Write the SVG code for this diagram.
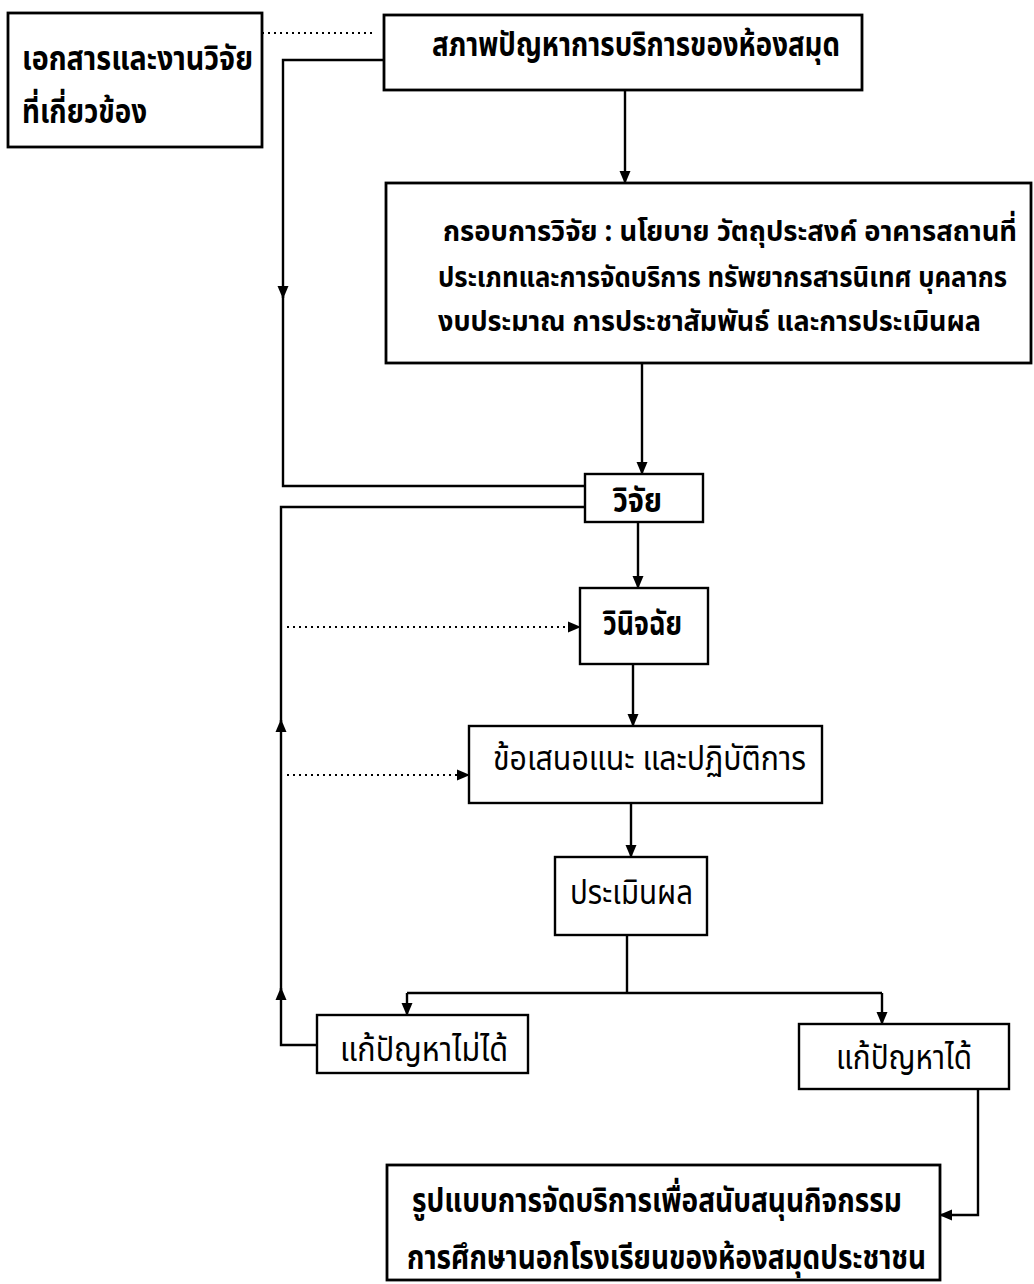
<svg xmlns="http://www.w3.org/2000/svg" width="1034" height="1284" viewBox="0 0 1034 1284">
<style>
  .box { fill: #ffffff; stroke: #000000; stroke-width: 2.4; }
  .boxh { fill: #ffffff; stroke: #000000; stroke-width: 2.8; }
  .t { font-family: "Noto Sans Thai", "Noto Sans", "DejaVu Sans", sans-serif; font-size: 33px; fill: #000000; }
  .b { font-weight: bold; }
  .s { font-size: 26px; }
  .ln { fill: none; stroke: #000000; stroke-width: 2.4; }
  .dot { fill: none; stroke: #000000; stroke-width: 2; stroke-dasharray: 2 4; }
</style>
<defs>
  <marker id="ah" markerWidth="13" markerHeight="13" viewBox="0 0 13 13" refX="12" refY="6.5" orient="auto" markerUnits="userSpaceOnUse">
    <path d="M0,1 L13,6.5 L0,12 Z" fill="#000000"/>
  </marker>
</defs>
<rect width="1034" height="1284" fill="#ffffff"/>

<g id="connectors">
  <path class="dot" d="M262,33 L373,33"/>
  <path class="ln" d="M625,90 L625,183" marker-end="url(#ah)"/>
  <path class="ln" d="M384,60 L283,60 L283,298" marker-end="url(#ah)"/>
  <path class="ln" d="M283,296 L283,486 L585,486"/>
  <path class="ln" d="M642,363 L642,474" marker-end="url(#ah)"/>
  <path class="ln" d="M638,522 L638,588" marker-end="url(#ah)"/>
  <path class="ln" d="M633,664 L633,726" marker-end="url(#ah)"/>
  <path class="ln" d="M631,803 L631,857" marker-end="url(#ah)"/>
  <path class="ln" d="M627,935 L627,993"/>
  <path class="ln" d="M407,993 L882,993"/>
  <path class="ln" d="M407,993 L407,1015" marker-end="url(#ah)"/>
  <path class="ln" d="M882,993 L882,1024" marker-end="url(#ah)"/>
  <path class="ln" d="M317,1045 L281,1045 L281,988" marker-end="url(#ah)"/>
  <path class="ln" d="M281,990 L281,720" marker-end="url(#ah)"/>
  <path class="ln" d="M281,722 L281,507 L585,507"/>
  <path class="dot" d="M287,627 L580,627" marker-end="url(#ah)"/>
  <path class="dot" d="M287,775 L469,775" marker-end="url(#ah)"/>
  <path class="ln" d="M978,1089 L978,1215 L940,1215" marker-end="url(#ah)"/>
</g>

<g id="node-documents">
  <rect class="boxh" x="8" y="13" width="254" height="134"/>
  <text class="t b" x="22" y="70" textLength="231" lengthAdjust="spacingAndGlyphs">เอกสารและงานวิจัย</text>
  <text class="t b" x="22" y="123" textLength="125" lengthAdjust="spacingAndGlyphs">ที่เกี่ยวข้อง</text>
</g>

<g id="node-problem">
  <rect class="boxh" x="384" y="15" width="478" height="75"/>
  <text class="t b" x="432" y="56" textLength="408" lengthAdjust="spacingAndGlyphs">สภาพปัญหาการบริการของห้องสมุด</text>
</g>

<g id="node-framework">
  <rect class="boxh" x="386" y="183" width="645" height="180"/>
  <text class="t b s" transform="translate(443,241) scale(1,1.12)" x="0" y="0" textLength="574" lengthAdjust="spacingAndGlyphs">กรอบการวิจัย : นโยบาย  วัตถุประสงค์ อาคารสถานที่</text>
  <text class="t b s" transform="translate(438,287) scale(1,1.12)" x="0" y="0" textLength="569" lengthAdjust="spacingAndGlyphs">ประเภทและการจัดบริการ ทรัพยากรสารนิเทศ บุคลากร</text>
  <text class="t b s" transform="translate(438,331) scale(1,1.12)" x="0" y="0" textLength="543" lengthAdjust="spacingAndGlyphs">งบประมาณ  การประชาสัมพันธ์ และการประเมินผล</text>
</g>

<g id="node-research">
  <rect class="box" x="585" y="474" width="118" height="48"/>
  <text class="t b" x="613" y="512" textLength="49" lengthAdjust="spacingAndGlyphs">วิจัย</text>
</g>

<g id="node-diagnosis">
  <rect class="box" x="580" y="588" width="128" height="76"/>
  <text class="t b" x="603" y="635" textLength="79" lengthAdjust="spacingAndGlyphs">วินิจฉัย</text>
</g>

<g id="node-recommend">
  <rect class="box" x="469" y="726" width="353" height="77"/>
  <text class="t" x="493" y="770" textLength="313" lengthAdjust="spacingAndGlyphs">ข้อเสนอแนะ และปฏิบัติการ</text>
</g>

<g id="node-evaluate">
  <rect class="box" x="555" y="857" width="152" height="78"/>
  <text class="t" x="570" y="904" textLength="123" lengthAdjust="spacingAndGlyphs">ประเมินผล</text>
</g>

<g id="node-unsolved">
  <rect class="box" x="317" y="1015" width="211" height="58"/>
  <text class="t" x="340" y="1061" textLength="168" lengthAdjust="spacingAndGlyphs">แก้ปัญหาไม่ได้</text>
</g>

<g id="node-solved">
  <rect class="box" x="799" y="1024" width="210" height="65"/>
  <text class="t" x="836" y="1069" textLength="136" lengthAdjust="spacingAndGlyphs">แก้ปัญหาได้</text>
</g>

<g id="node-model">
  <rect class="boxh" x="387" y="1165" width="553" height="115"/>
  <text class="t b" x="412" y="1212" textLength="490" lengthAdjust="spacingAndGlyphs">รูปแบบการจัดบริการเพื่อสนับสนุนกิจกรรม</text>
  <text class="t b" x="407" y="1269" textLength="519" lengthAdjust="spacingAndGlyphs">การศึกษานอกโรงเรียนของห้องสมุดประชาชน</text>
</g>
</svg>
